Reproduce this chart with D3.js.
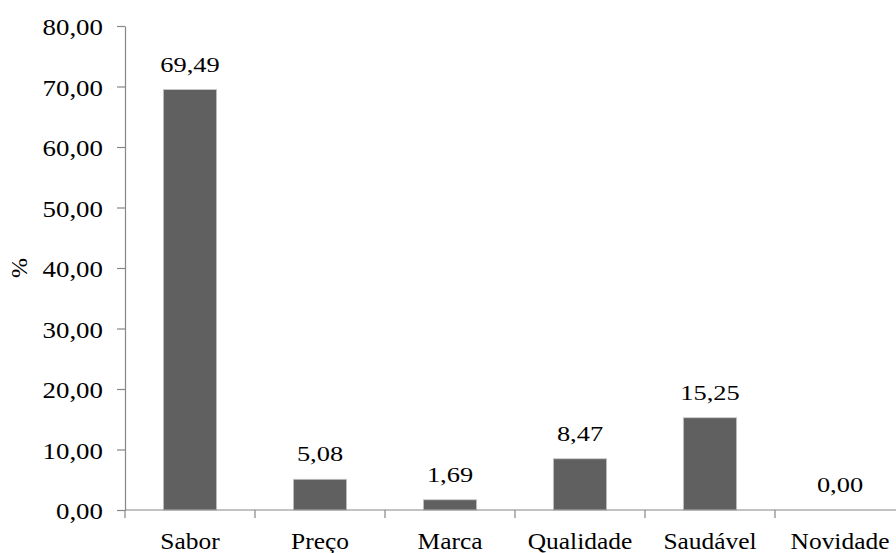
<!DOCTYPE html>
<html>
<head>
<meta charset="utf-8">
<script src="https://cdn.jsdelivr.net/npm/d3@7"></script>
<style>
  html, body { margin: 0; padding: 0; background: #fff; }
  svg { display: block; }
  text { font-family: "Liberation Serif", "Times New Roman", serif; fill: #000; }
</style>
</head>
<body>
<svg id="chart" width="896" height="553"></svg>
<script>
// Motivos de escolha (%)
const categories = ["Sabor", "Preço", "Marca", "Qualidade", "Saudável", "Novidade"];
const values = [69.49, 5.08, 1.69, 8.47, 15.25, 0.00];
const yTicks = [0, 10, 20, 30, 40, 50, 60, 70, 80];
const yLabel = "%";

const plotLeft = 125, plotBottom = 510, plotTop = 26;
const step = 130;

const ptBR = d3.formatLocale({ decimal: ",", thousands: ".", grouping: [3], currency: ["R$", ""] });
const fmt = ptBR.format(".2f");

const svg = d3.select("#chart");

const x = d3.scaleBand()
  .domain(categories)
  .range([plotLeft, plotLeft + step * categories.length])
  .paddingInner(0.59)
  .paddingOuter(0.295);

const y = d3.scaleLinear().domain([0, 80]).range([plotBottom, plotTop]);

const axisColor = "#868686";

// Y axis
const gy = svg.append("g")
  .attr("transform", `translate(${plotLeft},0)`)
  .call(d3.axisLeft(y).tickValues(yTicks).tickSize(8).tickSizeOuter(0).tickFormat(fmt));
gy.select(".domain").attr("stroke", axisColor).attr("stroke-width", 1.2);
gy.selectAll(".tick line").attr("stroke", axisColor).attr("stroke-width", 1.2);
gy.selectAll(".tick text")
  .attr("x", null)
  .attr("dy", "0.37em")
  .attr("transform", "translate(-22,0) scale(1.12,1)")
  .style("font-family", "'Liberation Serif', serif")
  .style("font-size", "24px")
  .attr("fill", "#000");

// Y axis title
svg.append("text")
  .attr("transform", "translate(27,268) rotate(-90)")
  .attr("text-anchor", "middle")
  .style("font-size", "24px")
  .text(yLabel);

// Bars
svg.append("g").selectAll("rect")
  .data(values)
  .join("rect")
  .attr("x", (d, i) => x(categories[i]))
  .attr("y", d => y(d))
  .attr("width", x.bandwidth())
  .attr("height", d => y(0) - y(d))
  .attr("fill", "#606060")
  .attr("stroke", "#c8c8c8")
  .attr("stroke-width", 0.8);

// X axis: baseline with ticks between categories
const xEdges = d3.range(categories.length + 1).map(i => plotLeft + i * step);
const gx = svg.append("g");
gx.append("line")
  .attr("x1", plotLeft).attr("x2", plotLeft + step * categories.length)
  .attr("y1", y(0)).attr("y2", y(0))
  .attr("stroke", axisColor).attr("stroke-width", 1.2);
gx.selectAll("line.tick")
  .data(xEdges)
  .join("line")
  .attr("class", "tick")
  .attr("x1", d => d).attr("x2", d => d)
  .attr("y1", y(0)).attr("y2", y(0) + 8)
  .attr("stroke", axisColor).attr("stroke-width", 1.2);
gx.selectAll("text")
  .data(categories)
  .join("text")
  .attr("transform", d => `translate(${x(d) + x.bandwidth() / 2},${y(0) + 39}) scale(1.06,1)`)
  .attr("text-anchor", "middle")
  .style("font-size", "24px")
  .text(d => d);

// Value labels above bars
svg.append("g").selectAll("text")
  .data(values)
  .join("text")
  .attr("transform", (d, i) => `translate(${x(categories[i]) + x.bandwidth() / 2},${y(d) - 18}) scale(1.2,1)`)
  .attr("text-anchor", "middle")
  .style("font-size", "22px")
  .text(d => fmt(d));
</script>
</body>
</html>
